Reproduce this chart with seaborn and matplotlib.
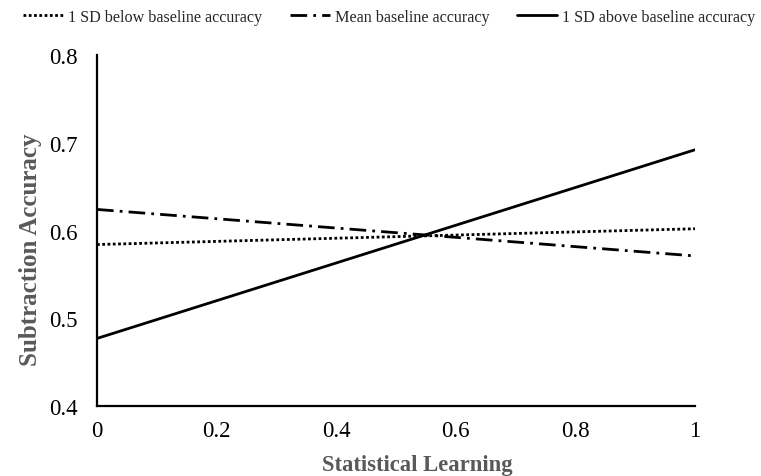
import matplotlib
matplotlib.use("Agg")
import matplotlib.pyplot as plt
import seaborn as sns
import pandas as pd

sns.set_theme(style="white")
plt.rcParams['font.family'] = ['Liberation Serif', 'DejaVu Serif']

x_vals = [0, 1]
series_names = ["1 SD below baseline accuracy", "Mean baseline accuracy", "1 SD above baseline accuracy"]
below_vals = [0.584, 0.602]
mean_vals = [0.624, 0.571]
above_vals = [0.477, 0.692]
x_ticks = [0, 0.2, 0.4, 0.6, 0.8, 1]
x_tick_labels = ["0", "0.2", "0.4", "0.6", "0.8", "1"]
y_ticks = [0.4, 0.5, 0.6, 0.7, 0.8]
y_tick_labels = ["0.4", "0.5", "0.6", "0.7", "0.8"]

fig = plt.figure(figsize=(7.61, 4.77), dpi=100)
ax = fig.add_axes([97/761, 1 - 407/477, (695-97)/761, (407-56)/477])

styles = [(0, (1.0, 0.9)), (0, (6.0, 2.2, 1.0, 2.2)), "-"]
for name, vals, ls in zip(series_names, [below_vals, mean_vals, above_vals], styles):
    df = pd.DataFrame({"x": x_vals, "y": vals})
    sns.lineplot(data=df, x="x", y="y", ax=ax, color="black", linewidth=2.0,
                 linestyle=ls, label=name)

ax.set_xlim(0, 1)
ax.set_ylim(0.4, 0.8)
ax.set_xticks(x_ticks)
ax.set_xticklabels(x_tick_labels)
ax.set_yticks(y_ticks)
ax.set_yticklabels(y_tick_labels)
ax.tick_params(axis="both", length=0, labelsize=16.5, colors="black", pad=10)
ax.tick_params(axis="y", pad=14)
for side in ["top", "right"]:
    ax.spines[side].set_visible(False)
for side in ["left", "bottom"]:
    ax.spines[side].set_color("black")
    ax.spines[side].set_linewidth(1.6)
ax.grid(False)

ax.set_xlabel("Statistical Learning", fontsize=16.3, fontweight="bold", color="#595959", va="center")
ax.set_ylabel("Subtraction Accuracy", fontsize=18, fontweight="bold", color="#595959", va="center")
ax.xaxis.set_label_coords((417-97)/598, (407-466)/351)
ax.yaxis.set_label_coords((31-97)/598, (407-250)/351)

leg = ax.legend(loc="center", ncol=3, frameon=False,
                fontsize=11.6, handlelength=2.5, columnspacing=1.7, handletextpad=0.3)
leg.set_bbox_to_anchor((389/761, 1 - 18/477), transform=fig.transFigure)

fig.savefig("out.png", dpi=100)
